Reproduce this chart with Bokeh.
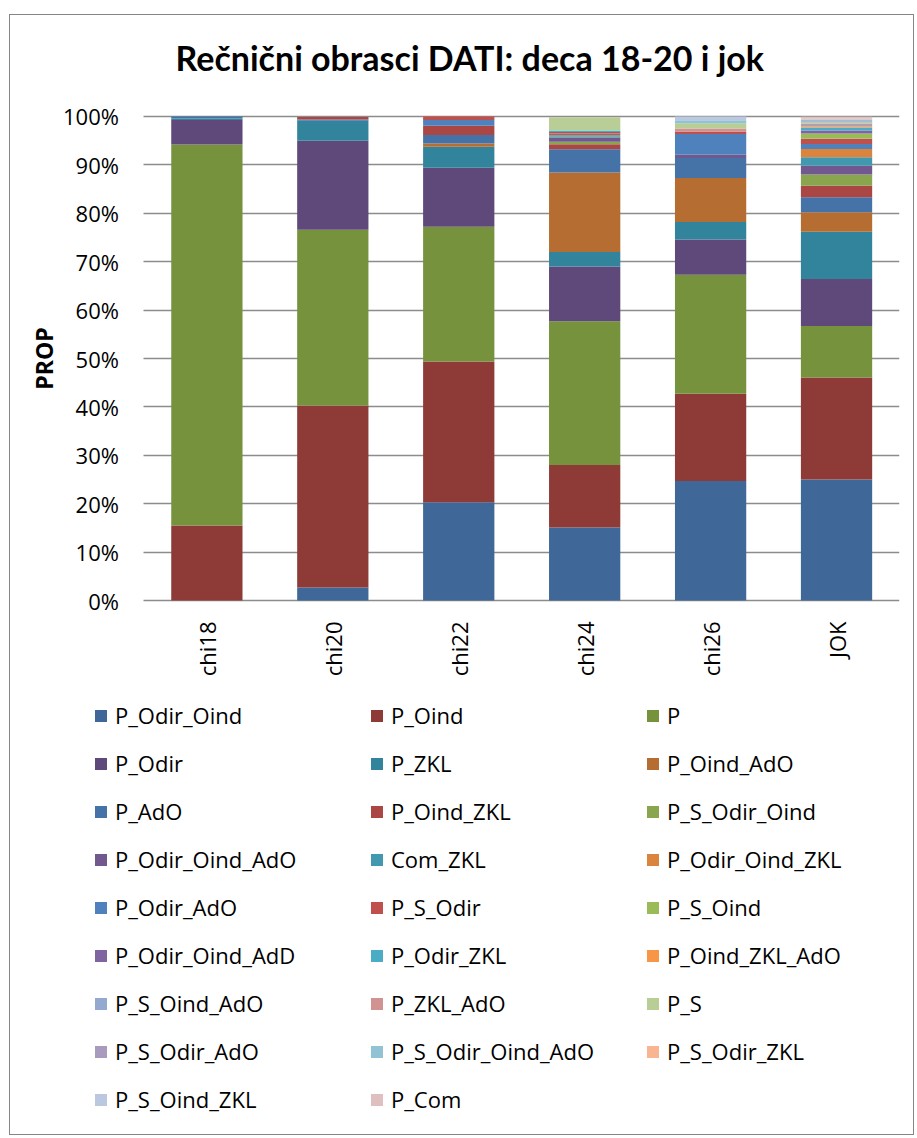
import math
from bokeh.plotting import figure
from bokeh.models import (Range1d, FixedTicker, PrintfTickFormatter, CustomJSTickFormatter,
                          Legend, LegendItem, ColumnDataSource)
from bokeh.embed import file_html
from bokeh.resources import INLINE

categories = ["chi18", "chi20", "chi22", "chi24", "chi26", "JOK"]

# percentages per category (chi18, chi20, chi22, chi24, chi26, JOK)
P_Odir_Oind = [0.0, 2.7, 20.3, 15.1, 24.7, 25.0]
P_Oind = [15.5, 37.6, 29.1, 12.9, 18.0, 21.1]
P = [78.7, 36.3, 27.8, 29.7, 24.6, 10.6]
P_Odir = [5.1, 18.4, 12.2, 11.3, 7.3, 9.7]
P_ZKL = [0.3, 4.1, 4.35, 3.0, 3.6, 9.8]
P_Oind_AdO = [0.0, 0.0, 0.65, 16.45, 9.1, 4.0]
P_AdO = [0.4, 0.3, 1.8, 4.8, 4.1, 3.1]
P_Oind_ZKL = [0.0, 0.5, 1.9, 1.0, 0.0, 2.4]
P_S_Odir_Oind = [0.0, 0.0, 0.0, 0.55, 0.0, 2.3]
P_Odir_Oind_AdO = [0.0, 0.0, 0.0, 0.8, 0.7, 1.8]
Com_ZKL = [0.0, 0.0, 0.0, 0.3, 0.0, 1.8]
P_Odir_Oind_ZKL = [0.0, 0.0, 0.0, 0.3, 0.0, 1.7]
P_Odir_AdO = [0.0, 0.0, 1.2, 0.3, 4.3, 1.0]
P_S_Odir = [0.0, 0.0, 0.7, 0.3, 0.5, 1.1]
P_S_Oind = [0.0, 0.0, 0.0, 0.0, 0.0, 1.1]
P_Odir_Oind_AdD = [0.0, 0.0, 0.0, 0.0, 0.0, 0.6]
P_Odir_ZKL = [0.0, 0.0, 0.0, 0.3, 0.0, 0.6]
P_Oind_ZKL_AdO = [0.0, 0.0, 0.0, 0.0, 0.0, 0.3]
P_S_Oind_AdO = [0.0, 0.0, 0.0, 0.0, 0.0, 0.25]
P_ZKL_AdO = [0.0, 0.0, 0.0, 0.0, 0.6, 0.25]
P_S = [0.0, 0.0, 0.0, 2.75, 1.1, 0.25]
P_S_Odir_AdO = [0.0, 0.0, 0.0, 0.0, 0.0, 0.25]
P_S_Odir_Oind_AdO = [0.0, 0.0, 0.0, 0.0, 0.6, 0.25]
P_S_Odir_ZKL = [0.0, 0.0, 0.0, 0.0, 0.0, 0.2]
P_S_Oind_ZKL = [0.0, 0.0, 0.0, 0.0, 0.8, 0.2]
P_Com = [0.0, 0.0, 0.0, 0.0, 0.0, 0.3]

series_names = ["P_Odir_Oind", "P_Oind", "P", "P_Odir", "P_ZKL", "P_Oind_AdO",
                "P_AdO", "P_Oind_ZKL", "P_S_Odir_Oind", "P_Odir_Oind_AdO", "Com_ZKL",
                "P_Odir_Oind_ZKL", "P_Odir_AdO", "P_S_Odir", "P_S_Oind", "P_Odir_Oind_AdD",
                "P_Odir_ZKL", "P_Oind_ZKL_AdO", "P_S_Oind_AdO", "P_ZKL_AdO", "P_S",
                "P_S_Odir_AdO", "P_S_Odir_Oind_AdO", "P_S_Odir_ZKL", "P_S_Oind_ZKL", "P_Com"]
series_values = [P_Odir_Oind, P_Oind, P, P_Odir, P_ZKL, P_Oind_AdO,
                 P_AdO, P_Oind_ZKL, P_S_Odir_Oind, P_Odir_Oind_AdO, Com_ZKL,
                 P_Odir_Oind_ZKL, P_Odir_AdO, P_S_Odir, P_S_Oind, P_Odir_Oind_AdD,
                 P_Odir_ZKL, P_Oind_ZKL_AdO, P_S_Oind_AdO, P_ZKL_AdO, P_S,
                 P_S_Odir_AdO, P_S_Odir_Oind_AdO, P_S_Odir_ZKL, P_S_Oind_ZKL, P_Com]
colors = ["#3F6797", "#8E3B38", "#76923C", "#5F497A", "#31849B", "#B66D31",
          "#4572A7", "#AA4643", "#89A54E", "#71588F", "#4198AF", "#DB843D",
          "#4F81BD", "#C0504D", "#9BBB59", "#8064A2", "#4BACC6", "#F79646",
          "#93A9CF", "#D09392", "#B9CD96", "#A99BBD", "#91C3D5", "#F9B590",
          "#BCC8E0", "#DFC0C0"]
y_ticks = [0, 10, 20, 30, 40, 50, 60, 70, 80, 90, 100]

# category slots on a numeric axis: slot i is centred at i + 0.5
x_pos = [i + 0.5 for i in range(len(categories))]

data = {"x": x_pos, "cat": categories}
for name, vals in zip(series_names, series_values):
    data[name] = vals
source = ColumnDataSource(data)

p = figure(x_range=Range1d(-0.98, 6.0), y_range=Range1d(-109.7, 104.13),
           width=905, height=1121, output_backend="svg", toolbar_location=None,
           min_border_left=10, min_border_right=16, min_border_top=81, min_border_bottom=5)
p.styles = {"border": "1px solid #868686", "margin-left": "9px", "margin-top": "14px"}

renderers = p.vbar_stack(series_names, x="x", width=0.566, source=source,
                         fill_color=colors, line_color=None)

p.title.text = "Rečnični obrasci DATI: deca 18-20 i jok"
p.title.text_font = "Lato"
p.title.text_font_style = "bold"
p.title.text_font_size = "34px"
p.title.text_color = "black"
p.title.align = "left"
p.title.offset = 155
p.title.standoff = 37

p.outline_line_color = None
p.xgrid.grid_line_color = None
p.ygrid.grid_line_color = "#8C8C8C"
p.ygrid.grid_line_width = 1.3
try:
    p.ygrid.cross_bounds = (0, len(categories))
except AttributeError:
    pass

p.yaxis.fixed_location = 0
p.yaxis.bounds = (0, 100)
p.yaxis.ticker = FixedTicker(ticks=y_ticks)
p.yaxis.formatter = PrintfTickFormatter(format="%d%%")
p.yaxis.axis_line_color = None
p.yaxis.major_tick_line_color = None
p.yaxis.major_tick_out = 0
p.yaxis.major_tick_in = 0
p.yaxis.minor_tick_line_color = None
p.yaxis.major_label_standoff = 25
p.yaxis.major_label_text_font = "Open Sans"
p.yaxis.major_label_text_font_size = "22px"
p.yaxis.major_label_text_color = "black"
p.yaxis.axis_label = "PROP"
p.yaxis.axis_label_text_font = "Open Sans"
p.yaxis.axis_label_text_font_style = "bold"
p.yaxis.axis_label_text_font_size = "23px"
p.yaxis.axis_label_text_color = "black"
p.yaxis.axis_label_standoff = 0

p.xaxis.fixed_location = 0
p.xaxis.bounds = (0, len(categories))
p.xaxis.ticker = FixedTicker(ticks=x_pos)
p.xaxis.formatter = CustomJSTickFormatter(args=dict(labels=categories),
                                          code="return labels[Math.round(tick - 0.5)];")
p.xaxis.axis_line_color = None
p.xaxis.major_tick_line_color = None
p.xaxis.major_tick_out = 0
p.xaxis.major_tick_in = 0
p.xaxis.minor_tick_line_color = None
p.xaxis.major_label_orientation = math.pi / 2
p.xaxis.major_label_standoff = 21
p.xaxis.major_label_text_font = "Open Sans"
p.xaxis.major_label_text_font_size = "22px"
p.xaxis.major_label_text_color = "black"

items = [LegendItem(label=n, renderers=[r]) for n, r in zip(series_names, renderers)]
legend = Legend(items=items, orientation="horizontal", ncols=3, location=(73, 17),
                label_text_font="Open Sans", label_text_font_size="22px",
                label_text_color="black", glyph_width=15, glyph_height=15,
                label_standoff=7, label_width=236, label_height=20, spacing=18,
                padding=0, margin=0, border_line_color=None, background_fill_alpha=0)
p.add_layout(legend, "center")

open("out.html", "w").write(file_html(p, INLINE))
